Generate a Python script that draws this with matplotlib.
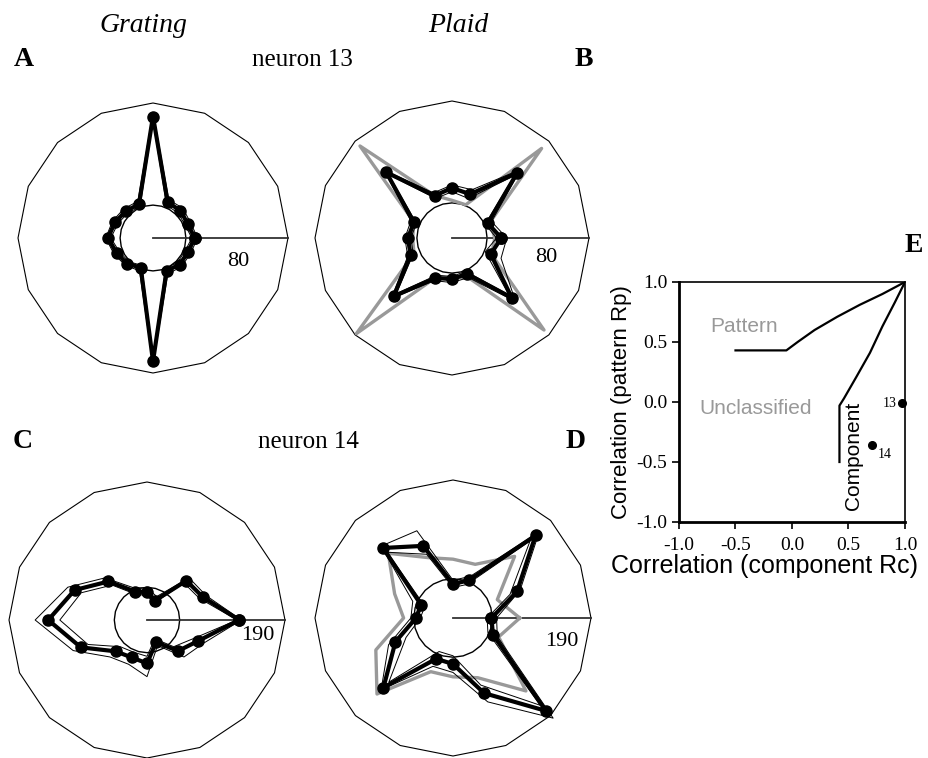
import matplotlib
matplotlib.use('Agg')
import matplotlib.pyplot as plt
import numpy as np

W, H = 929, 758

SERIF = ['Liberation Serif', 'DejaVu Serif']
SANS = ['Liberation Sans', 'DejaVu Sans']

# 16 directions of motion (deg)
directions = np.arange(0, 360, 22.5)

# neuron 13 (outer ring = 80 spikes/s)
n13_base_grating = 19.5
n13_grating = [24.7, 22.2, 23.0, 22.8, 72.0, 21.7, 22.6, 24.4, 26.7, 23.3, 21.6, 19.0, 73.0, 21.0, 22.3, 22.3]
n13_grating_hi = [26.5, 24.0, 25.0, 24.5, 74.5, 23.5, 24.5, 26.0, 28.0, 25.0, 23.0, 21.0, 75.0, 23.0, 24.0, 24.0]
n13_grating_lo = [23.0, 20.5, 21.0, 21.0, 69.5, 20.0, 21.0, 22.5, 25.0, 21.5, 20.0, 17.5, 71.0, 19.5, 20.5, 20.5]

n13_base_plaid = 20.5
n13_plaid = [28.8, 22.6, 53.8, 27.7, 29.2, 26.7, 54.3, 24.1, 25.7, 26.2, 48.2, 25.3, 24.0, 22.7, 49.3, 24.5]
n13_plaid_hi = [32.0, 25.0, 56.5, 30.5, 31.0, 28.5, 56.0, 26.0, 27.5, 28.0, 50.0, 27.0, 26.0, 25.0, 52.5, 31.0]
n13_plaid_lo = [26.0, 21.0, 51.5, 25.0, 27.0, 25.0, 52.5, 22.5, 24.0, 24.5, 46.0, 23.5, 22.5, 21.0, 47.0, 21.0]
n13_component_pred = [25, 24, 74, 21, 22, 27, 76, 24, 23, 24, 79, 25, 23, 25, 76, 25]

# neuron 14 (outer ring = 190 spikes/s)
n14_base_grating = 45.0
n14_grating = [127, 83, 76.7, 29, 39, 42.4, 75, 107.8, 136, 98.5, 61, 55.7, 59.7, 33, 60.4, 75.8]
n14_grating_hi = [130, 88, 82, 35, 44, 48, 82, 118, 154, 110, 72, 66, 78, 38, 72, 84]
n14_grating_lo = [124, 78, 72, 25, 34, 38, 68, 98, 120, 88, 52, 48, 50, 28, 52, 68]

n14_base_plaid = 54.0
n14_plaid = [53, 95.4, 160.7, 56, 46.8, 107.5, 136.3, 47.6, 51, 85.8, 135.4, 60.8, 63.3, 112, 180.8, 59.5]
n14_plaid_hi = [60, 100, 168, 62, 52, 130, 140, 60, 58, 96, 140, 72, 75, 125, 195, 66]
n14_plaid_lo = [47, 85, 150, 50, 42, 95, 128, 42, 45, 70, 125, 50, 52, 100, 170, 52]
n14_component_pred = [92, 66, 120, 80, 81, 90, 126, 87, 68, 115, 148, 80, 81, 89, 142, 68]

# panel E: partial correlation boundaries and the two cells
pattern_rc = [-0.5, -0.05, 0.05, 0.2, 0.4, 0.6, 0.8, 0.92, 1.0]
pattern_rp = [0.43, 0.43, 0.50, 0.60, 0.71, 0.81, 0.90, 0.96, 1.0]
component_rc = [0.42, 0.42, 0.46, 0.57, 0.69, 0.80, 0.91, 1.0]
component_rp = [-0.50, -0.03, 0.03, 0.21, 0.41, 0.63, 0.83, 1.0]
cell_ids = ['13', '14']
cell_rc = [0.97, 0.71]
cell_rp = [-0.01, -0.36]
corr_ticks = [-1.0, -0.5, 0.0, 0.5, 1.0]


def closed(vals):
    th = np.deg2rad(np.append(directions, directions[0]))
    return th, np.append(vals, vals[0])


def polar_panel(fig, cx, cy, R, rmax, base, mean, hi, lo, pred=None):
    ax = fig.add_axes([(cx - R) / W, 1 - (cy + R) / H, 2 * R / W, 2 * R / H],
                      projection='polar')
    ring = np.deg2rad(np.arange(0, 361, 22.5))
    ax.plot(ring, np.full(ring.size, rmax), color='black', lw=0.8, clip_on=False)
    circ = np.linspace(0, 2 * np.pi, 25)
    ax.plot(circ, np.full(circ.size, base), color='black', lw=1.0)
    ax.plot([0, 0], [0, rmax], color='#333333', lw=1.3)
    if pred is not None:
        ax.plot(*closed(pred), color='#999999', lw=2.4, clip_on=False)
    for s in (hi, lo):
        ax.plot(*closed(s), color='black', lw=0.7, clip_on=False)
    ax.plot(*closed(mean), color='black', lw=3, marker='o', ms=8, clip_on=False)
    ax.set_ylim(0, rmax)
    ax.set_axis_off()
    return ax


def ftext(fig, x, y, s, **kw):
    kw.setdefault('ha', 'center')
    kw.setdefault('va', 'center')
    fig.text(x / W, 1 - y / H, s, **kw)


fig = plt.figure(figsize=(W / 100, H / 100), dpi=100)

polar_panel(fig, 153, 238, 135, 80, n13_base_grating, n13_grating, n13_grating_hi, n13_grating_lo)
polar_panel(fig, 452, 238, 137, 80, n13_base_plaid, n13_plaid, n13_plaid_hi, n13_plaid_lo,
            n13_component_pred)
polar_panel(fig, 147, 620, 138, 190, n14_base_grating, n14_grating, n14_grating_hi, n14_grating_lo)
polar_panel(fig, 453, 618, 138, 190, n14_base_plaid, n14_plaid, n14_plaid_hi, n14_plaid_lo,
            n14_component_pred)

# headings and panel letters
ftext(fig, 143, 26, 'Grating', family=SERIF, style='italic', fontsize=20)
ftext(fig, 458, 26, 'Plaid', family=SERIF, style='italic', fontsize=20)
ftext(fig, 302, 60, 'neuron 13', family=SERIF, fontsize=18)
ftext(fig, 308, 442, 'neuron 14', family=SERIF, fontsize=18)
for letter, x, y in [('A', 24, 60), ('B', 584, 60), ('C', 23, 442), ('D', 576, 442), ('E', 914, 245)]:
    ftext(fig, x, y, letter, family=SERIF, fontweight='bold', fontsize=20)
for s, x, y in [('80', 238, 262), ('80', 546, 258), ('190', 258, 636), ('190', 562, 641)]:
    ftext(fig, x, y, s, family=SERIF, fontsize=16)

# panel E
axE = fig.add_axes([679 / W, 1 - 522 / H, (905 - 679) / W, (522 - 282) / H])
axE.plot(pattern_rc, pattern_rp, color='black', lw=1.6)
axE.plot(component_rc, component_rp, color='black', lw=1.6)
axE.plot(cell_rc, cell_rp, 'o', color='black', ms=5.5, clip_on=False)
axE.text(0.93, -0.01, cell_ids[0], ha='right', va='center', family=SERIF, fontsize=10)
axE.text(0.76, -0.44, cell_ids[1], ha='left', va='center', family=SERIF, fontsize=10)
axE.text(-0.42, 0.63, 'Pattern', color='#999999', ha='center', va='center',
         family=SANS, fontsize=15)
axE.text(-0.32, -0.05, 'Unclassified', color='#999999', ha='center', va='center',
         family=SANS, fontsize=15)
axE.text(0.54, -0.45, 'Component', rotation=90, ha='center', va='center',
         family=SANS, fontsize=15)
axE.set_xlim(-1, 1)
axE.set_ylim(-1, 1)
axE.set_xticks(corr_ticks)
axE.set_yticks(corr_ticks)
axE.set_xticklabels([f'{t:.1f}' for t in corr_ticks], family=SERIF, fontsize=14)
axE.set_yticklabels([f'{t:.1f}' for t in corr_ticks], family=SERIF, fontsize=14)
axE.tick_params(direction='out', length=5, width=1.2)
axE.tick_params(axis='x', pad=6)
axE.set_ylabel('Correlation (pattern Rp)', family=SANS, fontsize=16, labelpad=3)
for side in ['left', 'bottom']:
    axE.spines[side].set_linewidth(2)
for side in ['top', 'right']:
    axE.spines[side].set_linewidth(1.2)
ftext(fig, 765, 566, 'Correlation (component Rc)', family=SANS, fontsize=18)

fig.savefig('out.png', dpi=100)
